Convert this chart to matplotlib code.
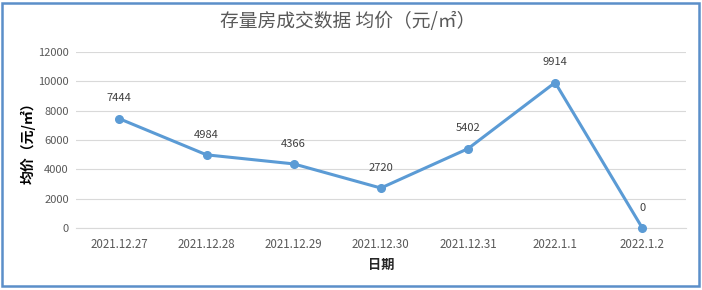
import matplotlib.pyplot as plt
from matplotlib.patches import Rectangle

plt.rcParams['font.family'] = ['Noto Sans CJK SC', 'DejaVu Sans']

# data
dates = ['2021.12.27', '2021.12.28', '2021.12.29', '2021.12.30', '2021.12.31', '2022.1.1', '2022.1.2']
avg_price = [7444, 4984, 4366, 2720, 5402, 9914, 0]
yticks = [0, 2000, 4000, 6000, 8000, 10000, 12000]

line_color = '#5B9BD5'
text_gray = '#595959'

fig = plt.figure(figsize=(7.02, 2.90), dpi=100)
ax = fig.add_axes([0.108, 0.214, 0.869, 0.607])

x = list(range(len(dates)))
ax.plot(x, avg_price, color=line_color, lw=2.2, marker='o', markersize=5.5,
        solid_capstyle='round', zorder=3, clip_on=False)
for xi, v in zip(x, avg_price):
    ax.annotate(str(v), (xi, v), xytext=(0, 11), textcoords='offset points',
                ha='center', va='bottom', fontsize=8, color='#404040')

ax.set_xlim(-0.5, len(dates) - 0.5)
ax.set_ylim(0, 12000)
ax.set_yticks(yticks)
ax.set_xticks(x)
ax.set_xticklabels(dates)
ax.tick_params(axis='both', length=0, labelsize=8.3, labelcolor=text_gray)
ax.tick_params(axis='x', pad=7)
ax.tick_params(axis='y', pad=5, labelsize=8)
ax.grid(axis='y', color='#D9D9D9', lw=0.8)
ax.set_axisbelow(True)
for s in ['top', 'right', 'left']:
    ax.spines[s].set_visible(False)
ax.spines['bottom'].set_color('#D9D9D9')
ax.spines['bottom'].set_linewidth(0.8)

ax.set_xlabel('日期', fontsize=9.5, fontweight='bold', color='#262626', labelpad=5)
ax.set_ylabel('均价（元/㎡）', fontsize=10, fontweight='bold', color='#000000')
ax.yaxis.set_label_coords(-0.066, 0.5)

fig.text(0.495, 0.925, '存量房成交数据 均价（元/㎡）', ha='center', va='center',
         fontsize=13.5, color=text_gray)

# outer chart frame (spreadsheet screenshot border)
fig.patches.append(Rectangle((0.003, 0.013), 0.993, 0.975, transform=fig.transFigure,
                             fill=False, edgecolor='#5B8FC9', lw=1.8))

fig.savefig('out.png', dpi=100)
